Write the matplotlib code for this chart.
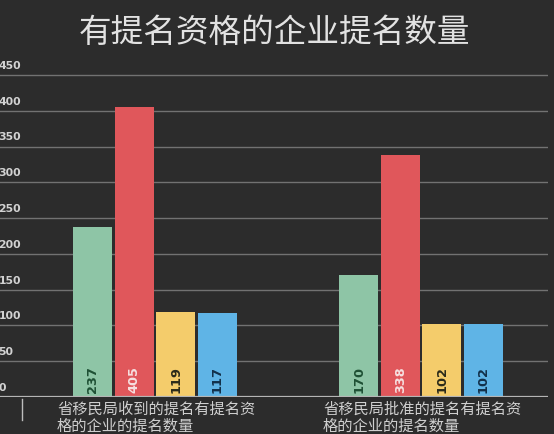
import matplotlib
matplotlib.use("Agg")
import matplotlib.pyplot as plt
from matplotlib.lines import Line2D
import numpy as np

plt.rcParams['font.family'] = ['Noto Sans CJK SC', 'DejaVu Sans']

title = "有提名资格的企业提名数量"
categories = ["省移民局收到的提名有提名资\n格的企业的提名数量",
              "省移民局批准的提名有提名资\n格的企业的提名数量"]
series_colors = ["#8ec5a6", "#e0575b", "#f4cc6b", "#5fb4e6"]
label_colors = ["#1e5034", "#f6e0e0", "#2a2a1a", "#12304a"]
series_values = [
    [237, 170],
    [405, 338],
    [119, 102],
    [117, 102],
]
yticks = [0, 50, 100, 150, 200, 250, 300, 350, 400, 450]

W, H = 554, 434
fig = plt.figure(figsize=(W / 100, H / 100), dpi=100)
bg = "#2c2c2c"
fig.patch.set_facecolor(bg)

# axes: x 0..548 px, y from 397 (0) to 75 (450)
y0_px, y450_px = 397, 75
ppu = (y0_px - y450_px) / 450.0
ytop = 458
top_px = y0_px - ytop * ppu
ax = fig.add_axes([0, 1 - y0_px / H, 548 / W, (y0_px - top_px) / H])
ax.set_facecolor(bg)
ax.set_ylim(0, ytop)

grp_px = 266.0
c1 = 155.0
ax.set_xlim(-c1 / grp_px, (548 - c1) / grp_px)

step = 41.5 / grp_px
width = 39.0 / grp_px
x = np.arange(len(categories))
for i, (vals, col, lc) in enumerate(zip(series_values, series_colors, label_colors)):
    pos = x + (i - 1.5) * step
    ax.bar(pos, vals, width=width, color=col, zorder=3)
    for p, v in zip(pos, vals):
        ax.text(p, 5, str(v), rotation=90, ha='center', va='bottom',
                fontsize=9.3, fontweight='bold', color=lc, zorder=4,
                family='DejaVu Sans')

for t in yticks[1:]:
    ax.axhline(t, color="#727272", lw=1.0, zorder=1)
ax.axhline(0, color="#b5b5b5", lw=1.6, zorder=5)

for t in yticks:
    ax.annotate(str(t), xy=(0, t), xycoords=('axes fraction', 'data'),
                xytext=(-1, 3), textcoords='offset points', ha='left', va='bottom',
                fontsize=7.8, fontweight='bold', color="#d2d2d2",
                family='DejaVu Sans')

for spine in ax.spines.values():
    spine.set_visible(False)
ax.set_xticks([])
ax.set_yticks([])

# category labels
for xi, cat in zip(x, categories):
    ax.annotate(cat, xy=(xi, 0), xycoords='data', xytext=(-98 / 100 * 72, -3),
                textcoords='offset points', ha='left', va='top',
                fontsize=11, color="#cfcfcf", linespacing=1.0,
                annotation_clip=False)

# separator tick
fig.add_artist(Line2D([22 / W, 22 / W], [1 - 399 / H, 1 - 420 / H],
                      color="#bdbdbd", lw=1.0))

fig.text(274 / W, 1 - 33 / H, title, ha='center', va='center',
         fontsize=23.5, color="#e2e2e2")

fig.savefig("out.png", dpi=100, facecolor=bg)
